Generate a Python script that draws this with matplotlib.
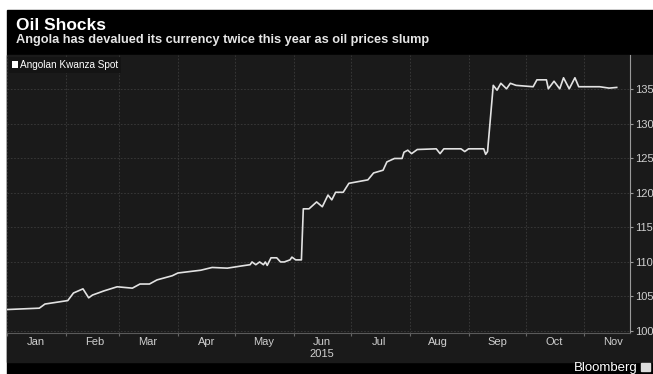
import matplotlib
matplotlib.use("Agg")
import matplotlib.pyplot as plt
from matplotlib.patches import Rectangle, Patch
import pandas as pd

# Angolan kwanza per USD, 2015 (spot)
dates = ["2015-01-01", "2015-01-18", "2015-01-21", "2015-02-02", "2015-02-05",
         "2015-02-10", "2015-02-13", "2015-02-15", "2015-02-21", "2015-02-28",
         "2015-03-08", "2015-03-12", "2015-03-17", "2015-03-21", "2015-03-29",
         "2015-04-01", "2015-04-13", "2015-04-19", "2015-04-27", "2015-05-04",
         "2015-05-09", "2015-05-10", "2015-05-12", "2015-05-14", "2015-05-16",
         "2015-05-17", "2015-05-18", "2015-05-20", "2015-05-23", "2015-05-25",
         "2015-05-27", "2015-05-30", "2015-05-31", "2015-06-02", "2015-06-05",
         "2015-06-06", "2015-06-09", "2015-06-13", "2015-06-16", "2015-06-19",
         "2015-06-21", "2015-06-23", "2015-06-27", "2015-06-30", "2015-07-04",
         "2015-07-10", "2015-07-13", "2015-07-18", "2015-07-20", "2015-07-24",
         "2015-07-28", "2015-07-29", "2015-07-31", "2015-08-02", "2015-08-05",
         "2015-08-15", "2015-08-17", "2015-08-19", "2015-08-28", "2015-08-30",
         "2015-09-01", "2015-09-09", "2015-09-10", "2015-09-11", "2015-09-14",
         "2015-09-16", "2015-09-18", "2015-09-21", "2015-09-23", "2015-09-26",
         "2015-10-05", "2015-10-07", "2015-10-12", "2015-10-13", "2015-10-16",
         "2015-10-19", "2015-10-21", "2015-10-24", "2015-10-27", "2015-10-29",
         "2015-11-09", "2015-11-14", "2015-11-18"]
values = [103.1, 103.3, 103.9, 104.4, 105.5,
          106.1, 104.8, 105.2, 105.8, 106.4,
          106.2, 106.8, 106.8, 107.4, 108.0,
          108.4, 108.8, 109.2, 109.1, 109.4,
          109.6, 110.0, 109.6, 110.0, 109.6,
          110.0, 109.5, 110.6, 110.6, 110.0,
          110.0, 110.3, 110.7, 110.3, 110.3,
          117.7, 117.7, 118.7, 118.0, 119.7,
          119.0, 120.1, 120.1, 121.4, 121.6,
          121.9, 122.9, 123.3, 124.5, 125.0,
          125.0, 125.9, 126.2, 125.7, 126.3,
          126.4, 125.7, 126.4, 126.4, 126.0,
          126.4, 126.4, 125.6, 126.0, 135.6,
          134.9, 135.9, 135.1, 135.9, 135.6,
          135.4, 136.4, 136.4, 135.1, 136.2,
          135.1, 136.7, 135.1, 136.7, 135.4,
          135.4, 135.2, 135.3]

months = ["Jan", "Feb", "Mar", "Apr", "May", "Jun\n2015", "Jul", "Aug", "Sep", "Oct", "Nov"]
yticks = [100, 105, 110, 115, 120, 125, 130, 135]

title = "Oil Shocks"
subtitle = "Angola has devalued its currency twice this year as oil prices slump"
series_name = "Angolan Kwanza Spot"

W, H = 653, 374
PANEL = "#1a1a1a"
GRID = "#3c3c3c"
TXT = "#cfcfcf"
plt.rcParams["font.family"] = ["Liberation Sans", "DejaVu Sans"]

fig = plt.figure(figsize=(W / 100, H / 100), dpi=100, facecolor="white")

def px(x0, y0, x1, y1):
    # pixel box (top-left origin) -> figure fraction rect
    return (x0 / W, 1 - y1 / H), (x1 - x0) / W, (y1 - y0) / H

(xy, w, h) = px(7, 10, W, H)
fig.patches.append(Rectangle(xy, w, h, transform=fig.transFigure, color="black", zorder=-10))
(xy, w, h) = px(7, 55, W, 362)
fig.patches.append(Rectangle(xy, w, h, transform=fig.transFigure, color=PANEL, zorder=-9))

fig.text(16 / W, 1 - 30 / H, title, color="white", fontsize=12.5, fontweight="bold",
         va="baseline", ha="left")
fig.text(16 / W, 1 - 43 / H, subtitle, color="#e6e6e6", fontsize=9.2, fontweight="bold",
         va="baseline", ha="left")

ax = fig.add_axes([7 / W, 41 / H, 623 / W, 278 / H])
ax.set_facecolor(PANEL)

x = pd.to_datetime(dates)
ax.plot(x, values, color="#e2e2e2", lw=1.2, zorder=3)

ax.set_xlim(pd.Timestamp("2015-01-01"), pd.Timestamp("2015-11-25"))
ax.set_ylim(99.7, 140)

# month starts carry the grid, mid-months carry the labels
starts = pd.date_range("2015-01-01", "2015-11-01", freq="MS")
ax.set_xticks(starts)
ax.set_xticklabels([])
ax.set_xticks(starts + pd.Timedelta(days=15), minor=True)
ax.set_xticklabels(months, minor=True)
ax.tick_params(axis="x", which="major", length=2, color="#666666", direction="out")
ax.tick_params(axis="x", which="minor", length=0, labelsize=8, labelcolor=TXT, pad=3)

ax.yaxis.tick_right()
ax.set_yticks(yticks)
ax.tick_params(axis="y", length=2, color="#9a9a9a", labelsize=8, labelcolor=TXT, pad=2)

ax.grid(True, which="major", color=GRID, lw=0.6, ls=(0, (2, 2)))

for s in ["top", "left"]:
    ax.spines[s].set_visible(False)
ax.spines["bottom"].set_color("#5a5a5a")
ax.spines["right"].set_color("#9a9a9a")

leg = ax.legend(handles=[Patch(facecolor="white", edgecolor="none")], labels=[series_name],
                loc="upper left", fontsize=7.2, labelcolor="white", frameon=True,
                facecolor="#141414", edgecolor="none", framealpha=1, handlelength=0.6,
                handleheight=0.6, handletextpad=0.2, borderpad=0.3, borderaxespad=0.2)
leg.get_frame().set_boxstyle("square", pad=0)

fig.text(638 / W, 1 - 371 / H, "Bloomberg", color="white", fontsize=9.5,
         ha="right", va="baseline")
(xy, w, h) = px(641, 363, 650, 371)
fig.patches.append(Rectangle(xy, w, h, transform=fig.transFigure, color="#dddddd", zorder=2))

fig.savefig("out.png", dpi=100, facecolor="white")
